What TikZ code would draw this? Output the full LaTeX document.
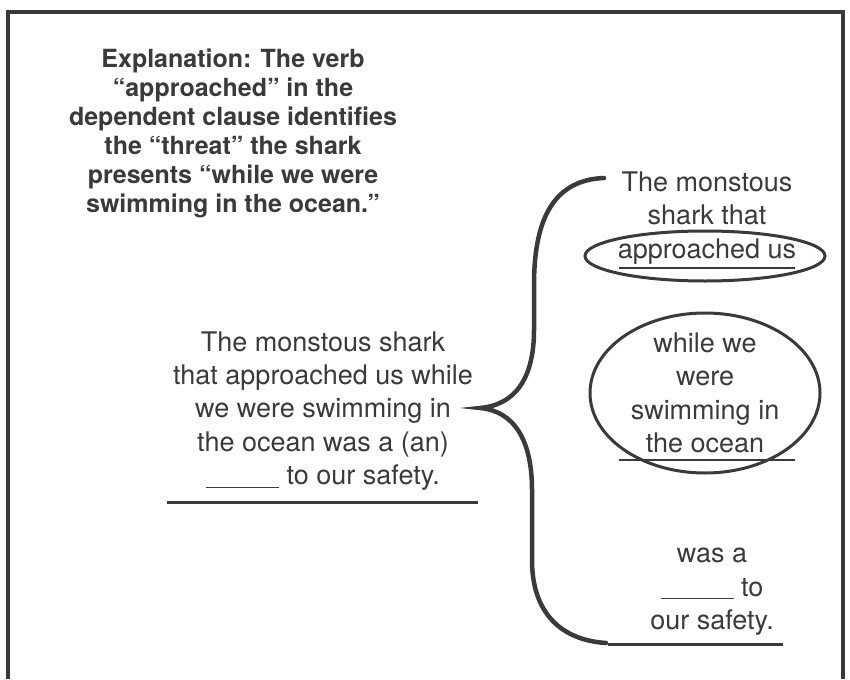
\documentclass[tikz,border=0pt]{standalone}
\usepackage{fontspec}
\setmainfont{TeX Gyre Heros}
\begin{document}
\begin{tikzpicture}[x=1pt,y=-1pt,
  regtext/.style={text=inkgray,align=center,inner sep=0pt,font=\fontsize{27}{33.4}\selectfont},
  boldtext/.style={text=inkgray,align=center,inner sep=0pt,font=\bfseries\fontsize{25}{29}\selectfont},
  rule/.style={draw=inkgray,line width=1.6pt},
  thickrule/.style={draw=inkgray,line width=3pt},
  ring/.style={draw=inkgray,line width=3pt}]
\definecolor{inkgray}{HTML}{3A3A3A}
\useasboundingbox (0,0) rectangle (850,679);
\fill[white] (0,0) rectangle (850,679);

% open-bottomed frame
\draw[inkgray,line width=4pt] (8,679) -- (8,12) -- (843,12) -- (843,679);

% explanation
\node[boldtext] (expl) at (233,133) {Explanation: The verb\\``approached'' in the\\dependent clause identifies\\the ``threat'' the shark\\presents ``while we were\\swimming in the ocean.''};

% full sentence
\node[regtext] (sent) at (323,411) {The monstous shark\\that approached us while\\we were swimming in\\the ocean was a (an)\\\rule[-3pt]{73pt}{1.2pt} to our safety.};
\coordinate (sentL) at (167,502);
\coordinate (sentR) at (478,502);
\draw[thickrule] (sentL) -- (sentR);

% brace
\coordinate (btop) at (604,178);
\coordinate (btip) at (480,408);
\coordinate (bbot) at (606,643);
\draw[inkgray,line width=4.5pt,line cap=round]
  (btop) .. controls (550,180) and (534,225) .. (534,285)
  -- (534,330) .. controls (534,380) and (514,405) .. (btip)
  .. controls (514,411) and (532,440) .. (532,490)
  -- (532,560) .. controls (532,612) and (560,640) .. (bbot);

% part 1: subject with relative clause
\node[regtext] (p1) at (707,218) {The monstous\\shark that\\approached us};
\draw[ring] (705,256) ellipse [x radius=120,y radius=25];
\coordinate (u1L) at (619,268);
\coordinate (u1R) at (795,268);
\draw[rule] (u1L) -- (u1R);

% part 2: adverb clause
\node[regtext] (p2) at (705,393) {while we\\were\\swimming in\\the ocean};
\draw[ring] (705,393) ellipse [x radius=115,y radius=80];
\coordinate (u2L) at (619,460);
\coordinate (u2R) at (795,460);
\draw[rule] (u2L) -- (u2R);

% part 3: predicate
\node[regtext] (p3) at (712,592) {was a\\\rule[-3pt]{73pt}{1.2pt} to\\our safety.};
\coordinate (u3L) at (608,644);
\coordinate (u3R) at (783,644);
\draw[thickrule] (u3L) -- (u3R);
\end{tikzpicture}
\end{document}
